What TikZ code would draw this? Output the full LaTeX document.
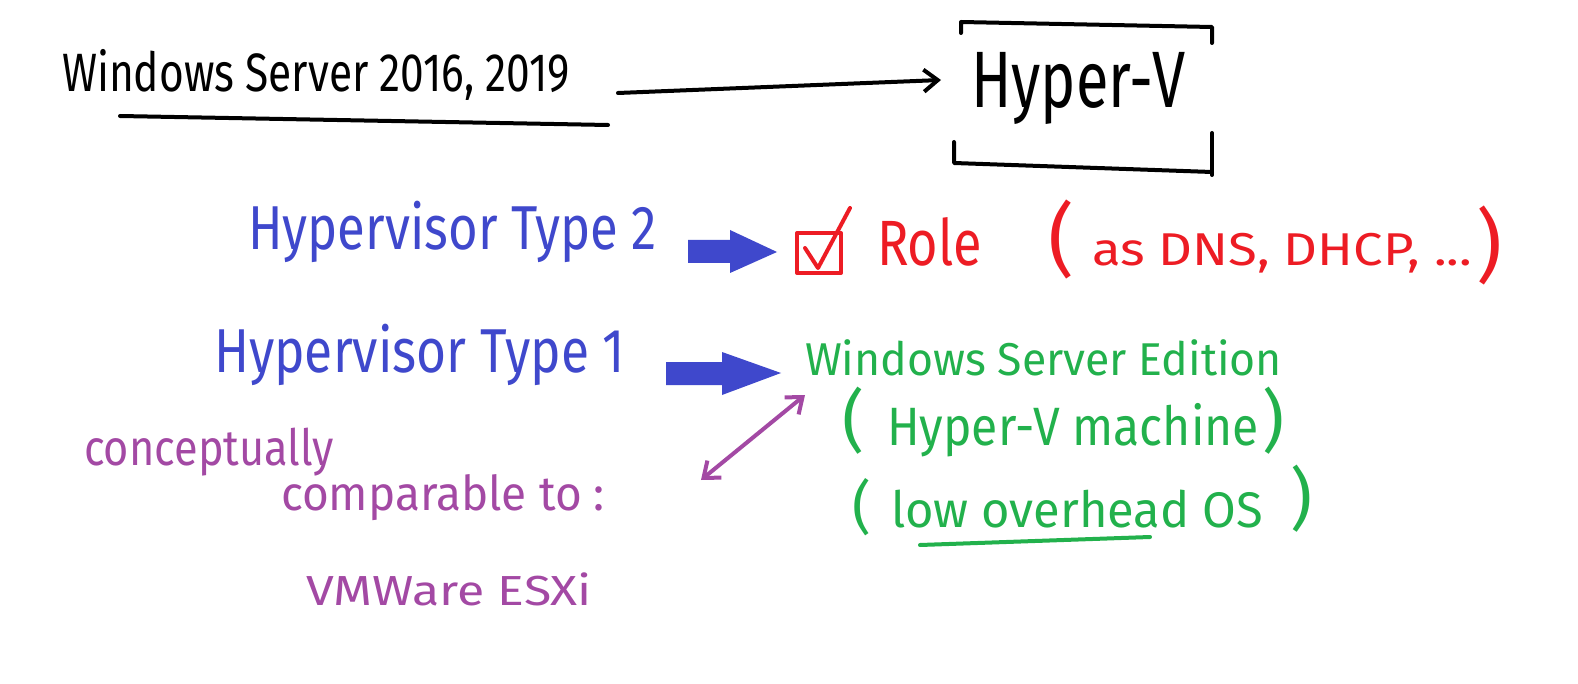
\documentclass[tikz,border=0pt]{standalone}
\usepackage{fontspec}
\setmainfont{Fira Sans}
\usetikzlibrary{arrows.meta}
\definecolor{inkblue}{RGB}{63,72,204}
\definecolor{inkred}{RGB}{237,28,36}
\definecolor{inkgreen}{RGB}{34,177,76}
\definecolor{inkpurple}{RGB}{163,73,164}
\newcommand\fitw[2]{\resizebox{#1}{\height}{#2}}
\newcommand\fsz[1]{\fontsize{#1}{#1}\selectfont}
\tikzset{
  txt/.style={anchor=base west, inner sep=0pt, outer sep=0pt},
  pen/.style={line width=4pt, line cap=round, line join=round},
  blockarrow/.style={fill=inkblue, draw=none},
  inkbarb/.tip={Straight Barb[length=14pt,width=22pt,line width=4pt]},
}
\begin{document}
\begin{tikzpicture}[x=1pt,y=-1pt]
\useasboundingbox (0,0) rectangle (1578,684);
\fill[white] (0,0) rectangle (1578,684);

% top row
\node[txt] (ws) at (62,92) {\fsz{54}\fitw{508pt}{Windows Server 2016, 2019}};
\draw[pen] (120,116) -- (608,125);
\node[txt] (hv) at (971,108) {\fsz{80}\fitw{214pt}{Hyper-V}};
\coordinate (a1s) at (618,93);
\coordinate (a1e) at (941,80);
\draw[pen, -{inkbarb}] (a1s) -- (a1e);
% brackets
\draw[pen] (961,33) -- (961,22) -- (1212,27) -- (1212,43);
\draw[pen] (954,142) -- (954,163) -- (1212,172);
\draw[pen] (1212,133) -- (1212,175);

% Hypervisor Type 2 row
\node[txt, text=inkblue] (ht2) at (248,250) {\fsz{62}\fitw{409pt}{Hypervisor Type 2}};
\fill[blockarrow] (688,240) -- (730,240) -- (730,230) -- (777,252) -- (730,273) -- (730,263) -- (688,263) -- cycle;
\draw[pen, inkred] (797,233) rectangle (841,273);
\draw[pen, inkred] (805,248) -- (818,268) -- (850,208);
\node[txt, text=inkred] (role) at (877,266) {\fsz{64}\fitw{105pt}{Role}};
\node[txt, text=inkred] (p1) at (1048,268) {\fsz{80}(};
\node[txt, text=inkred] (dns) at (1092,266) {\fsz{46}\fitw{380pt}{as DNS, DHCP, ...}};
\node[txt, text=inkred] (p2) at (1476,274) {\fsz{80})};

% Hypervisor Type 1 row
\node[txt, text=inkblue] (ht1) at (214,372) {\fsz{62}\fitw{411pt}{Hypervisor Type 1}};
\fill[blockarrow] (666,362) -- (722,362) -- (722,352) -- (781,373) -- (722,395) -- (722,385) -- (666,385) -- cycle;
\node[txt, text=inkgreen] (wse) at (805,375) {\fsz{46}\fitw{477pt}{Windows Server Edition}};
\node[txt, text=inkgreen] (p3) at (842,444) {\fsz{68}(};
\node[txt, text=inkgreen] (hvm) at (887,445) {\fsz{54}\fitw{372pt}{Hyper-V machine}};
\node[txt, text=inkgreen] (p4) at (1262,444) {\fsz{68})};
\node[txt, text=inkgreen] (p5) at (852,527) {\fsz{58}(};
\node[txt, text=inkgreen] (lo) at (891,527) {\fsz{50}\fitw{372pt}{low overhead OS}};
\node[txt, text=inkgreen] (p6) at (1290,522) {\fsz{68})};
\draw[pen, inkgreen] (920,545) -- (1150,537);

% purple
\coordinate (d1) at (701,480);
\coordinate (d2) at (805,395);
\draw[pen, inkpurple, {inkbarb}-{inkbarb}] (d1) -- (d2);
\node[txt, text=inkpurple] (con) at (84,465) {\fsz{50}\fitw{250pt}{conceptually}};
\node[txt, text=inkpurple] (cmp) at (281,510) {\fsz{48}\fitw{324pt}{comparable to :}};
\node[txt, text=inkpurple] (vm) at (306,605) {\fsz{42}\fitw{286pt}{VMWare ESXi}};
\end{tikzpicture}
\end{document}
